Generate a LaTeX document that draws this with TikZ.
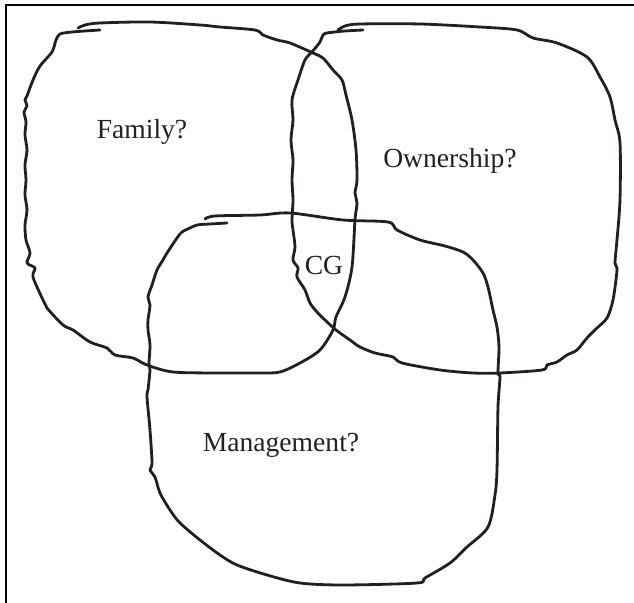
\documentclass[tikz,border=0pt]{standalone}
\usepackage{fontspec}
\setmainfont{Liberation Serif}
\usepackage{tikz}
\definecolor{ink}{RGB}{35,31,32}
\newcommand{\lbl}[3]{\node[anchor=base,inner sep=0pt,text=ink] (#1) at (#2) {#3};}

\begin{document}
\begin{tikzpicture}[x=0.5pt,y=-0.5pt,
    loop/.style={ink,line width=1.4pt,line join=round,line cap=round}]
  \useasboundingbox (0,0) rectangle (634,603);
  \draw[line width=1.2pt] (6,603) -- (6,5) -- (634,5);
  % Family
  \draw[loop] plot[smooth,tension=0.5] coordinates {(100,30) (85,31) (72,32) (60,34) (56,40) (52,52) (40,66) (33,80) (27,96) (25,100) (27,106) (24,112) (26,122) (25,135) (27,150) (25,165) (26,180) (25,195) (27,210) (25,225) (26,240) (30,253) (27,263) (35,268) (33,277) (43,300) (47,308) (63,325) (73,330) (90,342) (107,348) (115,355) (133,358) (147,365) (173,372) (220,373) (260,373) (280,372) (300,363) (320,350) (333,330) (336,317) (345,297) (352,267) (355,220) (357,203) (355,193) (357,180) (356,150) (352,120) (346,95) (342,80) (333,70) (323,58) (313,53) (290,43) (277,40) (263,35) (255,30) (220,27) (200,25) (150,22) (100,23) (85,25) (78,28)};
  % Ownership
  \draw[loop] plot[smooth,tension=0.5] coordinates {(363,30) (345,31) (335,32) (324,34) (320,42) (312,52) (305,60) (298,80) (292,100) (293,120) (291,140) (293,160) (292,180) (293,200) (292,220) (293,230) (295,247) (293,260) (298,268) (297,277) (305,290) (310,303) (317,312) (325,320) (336,330) (350,340) (360,347) (375,353) (393,357) (402,363) (440,370) (473,373) (500,373) (542,370) (547,365) (557,362) (567,355) (577,350) (587,338) (597,328) (607,318) (613,300) (617,270) (615,263) (617,240) (620,200) (620,143) (615,120) (610,97) (600,77) (587,57) (557,43) (533,38) (517,30) (480,27) (420,24) (360,24) (345,26) (338,30)};
  % Management
  \draw[loop] plot[smooth,tension=0.5] coordinates {(227,223) (210,224) (197,225) (190,228) (182,232) (177,238) (167,253) (163,260) (157,270) (152,285) (148,297) (150,305) (148,320) (148,330) (150,345) (149,363) (150,370) (148,390) (147,397) (150,430) (152,463) (150,470) (155,477) (160,493) (170,510) (180,523) (200,540) (220,555) (237,565) (267,575) (300,583) (343,585) (417,583) (425,578) (450,563) (467,547) (488,527) (495,495) (497,470) (498,407) (500,377) (498,373) (499,347) (497,327) (493,310) (488,287) (483,273) (473,260) (463,252) (445,246) (420,240) (397,230) (388,222) (343,220) (290,213) (260,215) (215,216) (205,219)};
  \fontsize{13.8}{16}\selectfont
  \lbl{fam}{142,139}{Family?}
  \lbl{own}{450,168}{Ownership?}
  \lbl{cg}{324,275}{CG}
  \lbl{man}{281,452}{Management?}
\end{tikzpicture}
\end{document}
